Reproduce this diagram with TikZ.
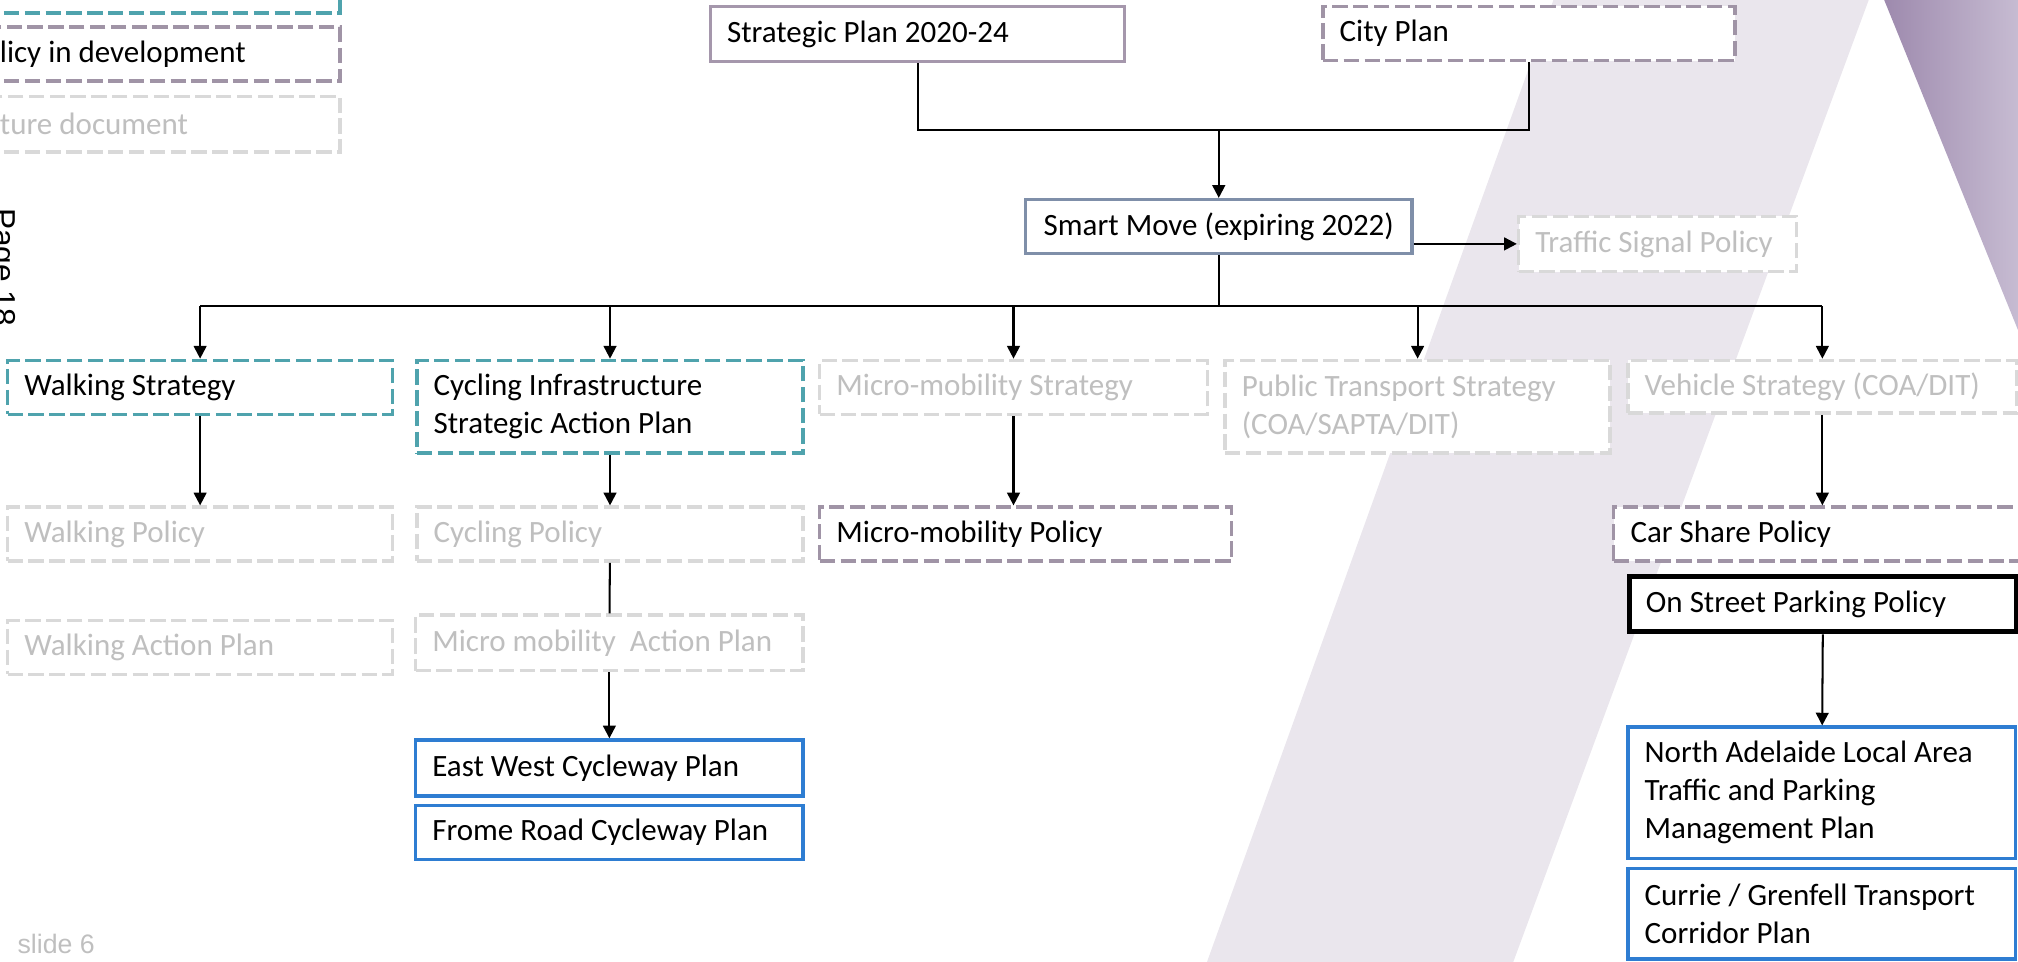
\documentclass[tikz,border=0pt]{standalone}
\usepackage{fontspec}
\setmainfont{Carlito}
\newfontfamily\arialfont{Liberation Sans}
\usetikzlibrary{arrows.meta}

\definecolor{tealline}{RGB}{79,163,173}
\definecolor{devline}{RGB}{160,148,166}
\definecolor{futline}{RGB}{217,217,217}
\definecolor{futtext}{RGB}{191,191,191}
\definecolor{stratline}{RGB}{165,151,172}
\definecolor{smartline}{RGB}{127,143,169}
\definecolor{planline}{RGB}{46,125,210}
\definecolor{bandfill}{RGB}{234,230,237}
\definecolor{wedgedark}{RGB}{156,136,172}
\definecolor{wedgelight}{RGB}{203,193,214}

\begin{document}
\begin{tikzpicture}[x=0.01cm, y=-0.01cm, >={Triangle[length=2.8pt,width=2.8pt]},
    doc/.style={rectangle, fill=white, inner xsep=0.13cm, inner ysep=0pt, align=flush left,
                font=\fontsize{6.85}{8.4}\selectfont},
    strategy/.style={doc, draw=tealline, line width=0.75pt, dash pattern=on 3.4pt off 1.2pt},
    indev/.style={doc, draw=devline, line width=0.75pt, dash pattern=on 3.4pt off 1.2pt},
    future/.style={doc, draw=futline, text=futtext, line width=0.75pt, dash pattern=on 3.4pt off 1.2pt},
    toplan/.style={doc, draw=stratline, line width=0.65pt},
    current/.style={doc, draw=smartline, line width=0.7pt},
    plan/.style={doc, draw=planline, line width=0.75pt},
    adopted/.style={doc, draw=black, line width=1.1pt},
    link/.style={line width=0.45pt}]

    \useasboundingbox (0,0) rectangle (1568,747);

    % background
    \fill[bandfill] (1210.6,-10) -- (1455.7,-10) -- (1172.3,757) -- (934.4,757) -- cycle;
    \shade[left color=wedgedark, right color=wedgelight] (1460,-10) -- (1580,-10) -- (1580,286) -- cycle;

    % legend
    \node[strategy, text width=2.51cm, minimum height=0.5cm] (legstrat) at (125.5,-15) {};
    \node[indev, text width=2.51cm, minimum height=0.42cm] (legdev) at (125.5,42) {licy in development};
    \node[future, text width=2.51cm, minimum height=0.43cm] (legfut) at (125.5,96.5) {ture document};
    \node[rotate=-90, anchor=base west, inner sep=0pt, font=\arialfont\fontsize{7}{8}\selectfont] (pagelbl) at (-4.7,161) {Page 18};
    \node[anchor=base west, inner sep=0pt, text=futtext, font=\arialfont\fontsize{5.9}{7}\selectfont] (slide) at (13,740.5) {slide 6};

    % top level
    \node[toplan, text width=2.96cm, minimum height=0.43cm] (strat) at (713,26.5) {Strategic Plan 2020-24};
    \node[indev, text width=2.94cm, minimum height=0.42cm] (city) at (1188,26) {City Plan};
    \node[current, minimum width=3cm, minimum height=0.42cm] (smart) at (947,176) {Smart Move (expiring 2022)};
    \node[future, text width=1.90cm, minimum height=0.43cm] (traffic) at (1288,189.5) {Traffic Signal Policy};

    % strategies
    \node[strategy, text width=2.73cm, minimum height=0.42cm] (walkS) at (155.5,301) {Walking Strategy};
    \node[strategy, text width=2.74cm, minimum height=0.72cm] (cycS) at (474,316) {Cycling Infrastructure\\Strategic Action Plan};
    \node[future, text width=2.75cm, minimum height=0.42cm] (microS) at (787.5,301) {Micro-mobility Strategy};
    \node[future, text width=2.73cm, minimum height=0.72cm] (ptS) at (1101.5,316) {Public Transport Strategy\\(COA/SAPTA/DIT)};
    \node[future, text width=2.76cm, minimum height=0.41cm] (vehS) at (1416,300.5) {Vehicle Strategy (COA/DIT)};

    % policies
    \node[future, text width=2.73cm, minimum height=0.42cm] (walkP) at (155.5,415) {Walking Policy};
    \node[future, text width=2.74cm, minimum height=0.42cm] (cycP) at (474,415) {Cycling Policy};
    \node[indev, text width=2.94cm, minimum height=0.42cm] (microP) at (797,415) {Micro-mobility Policy};
    \node[indev, text width=3.10cm, minimum height=0.42cm] (carP) at (1422,415) {Car Share Policy};

    % plans
    \node[future, text width=2.73cm, minimum height=0.42cm] (walkA) at (155.5,503) {Walking Action Plan};
    \node[future, text width=2.75cm, minimum height=0.43cm] (mmA) at (473.5,499.5) {Micro mobility~ Action Plan};
    \node[adopted, text width=2.75cm, minimum height=0.43cm] (ospp) at (1416.5,469.5) {On Street Parking Policy};
    \node[plan, text width=2.75cm, minimum height=0.435cm] (ew) at (473.5,596.75) {East West Cycleway Plan};
    \node[plan, text width=2.75cm, minimum height=0.42cm] (frome) at (473.5,647) {Frome Road Cycleway Plan};
    \node[plan, text width=2.75cm, minimum height=1.02cm] (nadl) at (1415.5,616) {North Adelaide Local Area\\Traffic and Parking\\Management Plan};
    \node[plan, text width=2.75cm, minimum height=0.70cm] (currie) at (1415.5,710) {Currie / Grenfell Transport\\Corridor Plan};

    % connectors
    \coordinate (join) at (947,101);
    \coordinate (bus) at (947,238);
    \draw[link] (strat.south) |- (join) -| (city.south);
    \draw[link] (smart.south) -- (bus);
    \draw[link] (walkS.north |- bus) -- (vehS.north |- bus);
    \path[->, link]
        (join) edge (smart.north)
        (traffic.west -| smart.east) edge (traffic.west)
        (walkS.north |- bus) edge (walkS.north)
        (cycS.north |- bus) edge (cycS.north)
        (microS.north |- bus) edge (microS.north)
        (ptS.north |- bus) edge (ptS.north)
        (vehS.north |- bus) edge (vehS.north)
        (walkS) edge (walkP)
        (cycS) edge (cycP)
        (cycP) edge[-] (mmA)
        (mmA) edge (ew)
        (microS.south) edge (microS.south |- microP.north)
        (vehS.south) edge (vehS.south |- carP.north)
        (ospp) edge (nadl);
\end{tikzpicture}
\end{document}
